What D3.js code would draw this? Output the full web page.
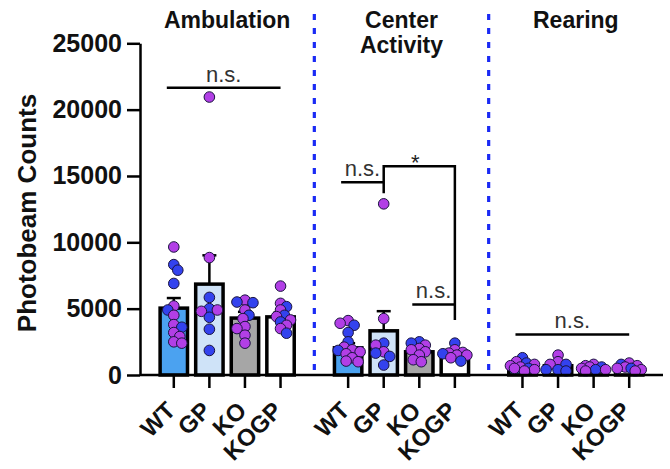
<!DOCTYPE html>
<html>
<head>
<meta charset="utf-8">
<script src="https://cdn.jsdelivr.net/npm/d3@7/dist/d3.min.js"></script>
<style>
  body { margin: 0; background: #fff; }
  text { font-family: "Liberation Sans", Arial, sans-serif; }
</style>
</head>
<body>
<svg width="670" height="469"></svg>
<script>
var measures = ["Ambulation", "Center Activity", "Rearing"];
var groups = ["WT", "GP", "KO", "KOGP"];
var yTicks = [0, 5000, 10000, 15000, 20000, 25000];

// bar heights (mean) and error bars (SEM)
var ambMean = [5040, 6850, 4290, 4380];
var ambSem = [760, 2170, 470, 330];
var ctrMean = [2050, 3330, 1750, 1580];
var ctrSem = [350, 1480, 200, 130];
var rearMean = [650, 700, 540, 590];
var rearSem = [90, 150, 60, 70];

// individual animals, blue and purple dots
var ambBlue = [[8320, 7900, 6900, 4900, 3600], [5850, 5000, 4350, 3450, 1850], [5500, 5450, 4500], [5150, 4500, 4000, 3150]];
var ambPurple = [[9650, 5200, 4500, 3800, 3200, 2900, 2500, 2400], [20950, 8850, 4900, 4800], [5640, 4900, 4250, 3650, 3500, 3000, 2400], [6700, 5400, 4900, 4400, 4150, 3750, 3500]];
var ctrBlue = [[3750, 3200, 2500, 1850], [2400, 1650, 1400, 750], [2500, 2400], [2400, 1600, 1050]];
var ctrPurple = [[4100, 3900, 2100, 1900, 1750, 1600, 1300, 1050, 1000], [12900, 4250, 2250, 1750], [2250, 2000, 1900, 1750, 1500, 1150, 1000], [1900, 1700, 1650, 1500, 1500, 1300]];
var rearBlue = [[1300, 900, 500], [800, 400, 400, 300], [600, 400], [800, 500]];
var rearPurple = [[1000, 800, 700, 600, 500, 400, 300], [1500, 1000, 800], [800, 700, 600, 500, 400, 300], [900, 700, 600, 500, 400, 300]];

// significance lines: measure index, group span, height in counts
var sigLines = [
  {m: 0, from: 0, to: 3, y: 21650, label: "n.s."},
  {m: 1, from: 0, to: 1, y: 14530, label: "n.s."},
  {m: 1, from: 2, to: 3, y: 5315, label: "n.s."},
  {m: 2, from: 0, to: 3, y: 3060, label: "n.s."}
];
var sigBracket = {m: 1, from: 1, to: 3, y: 15740, leftEnd: 13700, rightEnd: 4140, label: "*"};

var means = [ambMean, ctrMean, rearMean];
var sems = [ambSem, ctrSem, rearSem];
var blues = [ambBlue, ctrBlue, rearBlue];
var purples = [ambPurple, ctrPurple, rearPurple];

var barFill = ["#4ba2f0", "#cfe3f8", "#a6a6a6", "#ffffff"];
var dotBlue = "#3342ee", dotPurple = "#b23fe6";

var svg = d3.select("svg");
var x0 = 140, x1 = 663, baseY = 375, topY = 43.3;

var y = d3.scaleLinear().domain([0, 25000]).range([baseY, topY]);
var gx = d3.scaleBand().domain(measures).range([x0, x1]);
var ix = d3.scaleBand().domain(groups).range([0, gx.bandwidth()])
    .paddingInner(0.16).paddingOuter(0.53);

function cx(m, g) { return gx(measures[m]) + ix(groups[g]) + ix.bandwidth() / 2; }

// blue dashed separators
svg.append("g").selectAll("line")
    .data(measures.slice(1))
    .enter().append("line")
      .attr("x1", d => gx(d)).attr("x2", d => gx(d))
      .attr("y1", 14).attr("y2", 372)
      .style("stroke", "#1a2af5")
      .style("stroke-width", 3.2)
      .style("stroke-dasharray", "6,8");

// titles
var titles = svg.append("g").selectAll("text")
    .data(measures)
    .enter().append("text")
      .attr("text-anchor", "middle")
      .style("font-weight", "bold")
      .style("font-size", "23px")
      .style("fill", "#111");
titles.each(function(d) {
  var t = d3.select(this), words = d.split(" "), xc = gx(d) + gx.bandwidth() / 2;
  words.forEach(function(w, i) {
    t.append("tspan").attr("x", xc).attr("y", 28 + i * 25).text(w);
  });
});

// bars
measures.forEach(function(mName, m) {
  var g = svg.append("g");
  var bw = ix.bandwidth() - 2.5;

  g.selectAll("rect")
      .data(means[m])
      .enter().append("rect")
        .attr("x", (d, i) => cx(m, i) - bw / 2)
        .attr("width", bw)
        .attr("y", d => y(d))
        .attr("height", d => baseY - y(d))
        .style("fill", (d, i) => barFill[i])
        .style("stroke", "#000")
        .style("stroke-width", 3.5);

  // error bars (mean + SEM)
  var err = g.selectAll(".err")
      .data(means[m])
      .enter().append("g").attr("class", "err");
  err.append("line")
      .attr("x1", (d, i) => cx(m, i)).attr("x2", (d, i) => cx(m, i))
      .attr("y1", d => y(d)).attr("y2", (d, i) => y(d + sems[m][i]));
  err.append("line")
      .attr("x1", (d, i) => cx(m, i) - 7).attr("x2", (d, i) => cx(m, i) + 7)
      .attr("y1", (d, i) => y(d + sems[m][i])).attr("y2", (d, i) => y(d + sems[m][i]));
  err.selectAll("line").style("stroke", "#000").style("stroke-width", 2.5);

  // dots, nudged sideways so they don't all sit on one line
  groups.forEach(function(gName, gi) {
    var pts = blues[m][gi].map(v => ({v: v, c: dotBlue}))
        .concat(purples[m][gi].map(v => ({v: v, c: dotPurple})));
    pts.sort((a, b) => b.v - a.v);
    var r = 5.3, minD = 2 * r * 0.62, step = 2, placed = [];
    pts.forEach(function(p, k) {
      var py = y(p.v), best = 0, bestGap = -1;
      for (var n = 0; n < 13; n++) {
        var off = (n % 2 ? 1 : -1) * Math.ceil(n / 2) * step;
        if (k % 2) off = -off;
        var gap = d3.min(placed, q => Math.hypot(q.x - (cx(m, gi) + off), q.y - py));
        if (gap === undefined || gap >= minD) { best = off; break; }
        if (gap > bestGap) { bestGap = gap; best = off; }
      }
      p.x = cx(m, gi) + best; p.y = py;
      placed.push(p);
    });
    g.append("g").selectAll("circle")
        .data(placed)
        .enter().append("circle")
          .attr("cx", d => d.x).attr("cy", d => d.y)
          .attr("r", r)
          .style("fill", d => d.c)
          .style("stroke", "#1a1440")
          .style("stroke-width", 1);
  });
});

// y axis
var yAxis = svg.append("g")
    .attr("transform", "translate(" + x0 + ",0)")
    .call(d3.axisLeft(y).tickValues(yTicks).tickFormat(d3.format("d")).tickSize(13).tickSizeOuter(0).tickPadding(5));
yAxis.select(".domain").style("stroke-width", 2.5);
yAxis.selectAll(".tick line").style("stroke-width", 2.5);
yAxis.selectAll("text")
    .style("font-size", "25px").style("font-weight", "bold").style("fill", "#111")
    .style("font-family", '"Liberation Sans", Arial, sans-serif');

svg.append("text")
    .attr("transform", "translate(36," + 213 + ") rotate(-90)")
    .attr("text-anchor", "middle")
    .style("font-size", "26px").style("font-weight", "bold").style("fill", "#111")
    .text("Photobeam Counts");

// x axis: one baseline, ticks per measure
measures.forEach(function(mName, m) {
  var ax = svg.append("g")
      .attr("transform", "translate(" + gx(mName) + "," + baseY + ")")
      .call(d3.axisBottom(ix).tickSize(13).tickSizeOuter(0));
  ax.select(".domain").remove();
  ax.selectAll(".tick line").style("stroke-width", 2.5);
  ax.selectAll("text")
      .attr("y", null).attr("dy", null)
      .attr("text-anchor", "end")
      .attr("transform", "translate(3,37) rotate(-45)")
      .style("font-size", "24px").style("font-weight", "bold").style("fill", "#111")
      .style("font-family", '"Liberation Sans", Arial, sans-serif');
});
svg.append("line")
    .attr("x1", x0).attr("x2", x1)
    .attr("y1", baseY).attr("y2", baseY)
    .style("stroke", "#000").style("stroke-width", 2.5);

// significance marks
var sig = svg.append("g");
sigLines.forEach(function(s) {
  var a = cx(s.m, s.from) - 7, b = cx(s.m, s.to);
  sig.append("line")
      .attr("x1", a).attr("x2", b).attr("y1", y(s.y)).attr("y2", y(s.y))
      .style("stroke", "#000").style("stroke-width", 2.5);
  sig.append("text")
      .attr("x", (a + b) / 2).attr("y", y(s.y) - 6)
      .attr("text-anchor", "middle")
      .style("font-size", "22px").style("fill", "#333")
      .text(s.label);
});
var bl = cx(sigBracket.m, sigBracket.from), br = cx(sigBracket.m, sigBracket.to);
sig.append("path")
    .attr("d", "M" + bl + "," + y(sigBracket.leftEnd) + "V" + y(sigBracket.y) +
               "H" + br + "V" + y(sigBracket.rightEnd))
    .style("fill", "none").style("stroke", "#000").style("stroke-width", 2.5);
sig.append("text")
    .attr("x", (bl + br) / 2 - 4).attr("y", y(sigBracket.y) + 4)
    .attr("text-anchor", "middle")
    .style("font-size", "22px").style("fill", "#222")
    .text(sigBracket.label);
</script>
</body>
</html>
